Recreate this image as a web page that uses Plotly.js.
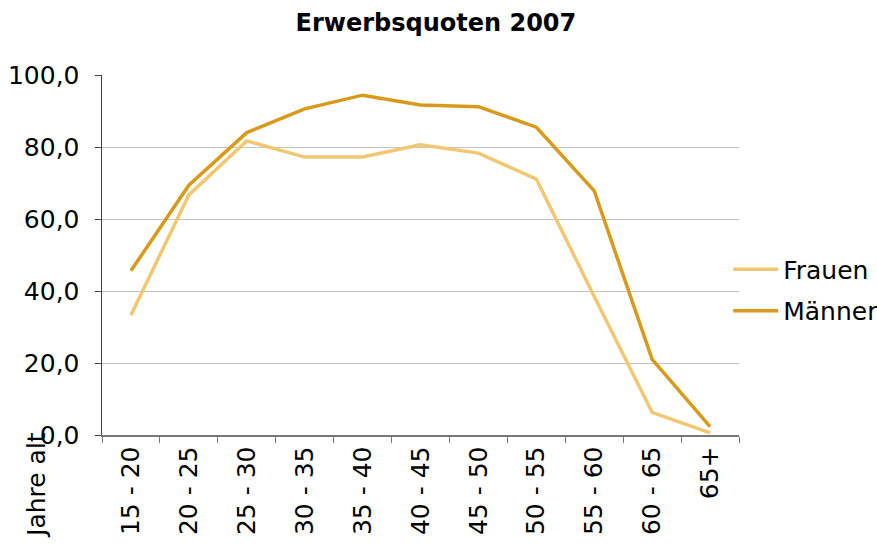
<!DOCTYPE html>
<html>
<head>
<meta charset="utf-8">
<script src="https://cdn.plot.ly/plotly-3.0.1.min.js"></script>
<style>html,body{margin:0;padding:0;background:#fff;}#chart{width:877px;height:559px;}</style>
</head>
<body>
<div id="chart"></div>
<script>
var categories = ["15 - 20","20 - 25","25 - 30","30 - 35","35 - 40","40 - 45","45 - 50","50 - 55","55 - 60","60 - 65","65+"];
var frauen = [33.3, 66.7, 81.7, 77.2, 77.2, 80.6, 78.3, 71.1, 38.5, 6.3, 0.6];
var maenner = [45.6, 69.4, 84.0, 90.6, 94.4, 91.7, 91.2, 85.5, 67.8, 21.0, 2.3];
var yTicks = [0, 20, 40, 60, 80, 100];
var yTickLabels = ["0,0","20,0","40,0","60,0","80,0","100,0"];

var font = "DejaVu Sans, Verdana, sans-serif";
var traces = [
  {x: categories, y: frauen, name: "Frauen", type: "scatter", mode: "lines", legendgroup: "f",
   line: {color: "#F0C873", width: 3.5}},
  {x: categories, y: maenner, name: "Männer", type: "scatter", mode: "lines", legendgroup: "m",
   line: {color: "#D99A1C", width: 3.5}}
];
var layout = {
  width: 877, height: 559,
  margin: {l: 102, r: 138, t: 75, b: 124, pad: 0, autoexpand: false},
  paper_bgcolor: "#fff", plot_bgcolor: "#fff",
  font: {family: font, color: "#000", size: 25},
  title: {text: "<b>Erwerbsquoten 2007</b>", x: 0.497, xanchor: "center", y: 0.96, yanchor: "middle",
          font: {family: font, size: 24, color: "#000"}},
  xaxis: {
    type: "category", tickangle: -90, tickson: "boundaries",
    ticks: "outside", ticklen: 6, tickcolor: "#777", showline: true, linecolor: "#777", linewidth: 1.5,
    showgrid: false, zeroline: false, tickfont: {family: font, size: 25, color: "#000"},
    range: [-0.5, 10.5], fixedrange: true
  },
  yaxis: {
    range: [0, 100], tickvals: yTicks, ticktext: yTickLabels,
    ticks: "outside", ticklen: 6, tickcolor: "#444", showline: true, linecolor: "#444", linewidth: 1.5,
    showgrid: true, gridcolor: "#C4C4C4", gridwidth: 1, zeroline: false, ticklabelstandoff: 10,
    tickfont: {family: font, size: 25, color: "#000"}
  },
  legend: {x: 0.983, xanchor: "left", y: 0.403, yanchor: "middle",
           font: {family: font, size: 25, color: "#000"}, bgcolor: "rgba(255,255,255,0)",
           itemwidth: 45, traceorder: "grouped", tracegroupgap: 6},
  showlegend: true,
  annotations: [
    {text: "Jahre alt", xref: "paper", yref: "paper", x: -0.103, y: 0.015, xanchor: "center", yanchor: "top",
     textangle: -90, showarrow: false, font: {family: font, size: 25, color: "#000"}}
  ]
};
Plotly.newPlot("chart", traces, layout, {displayModeBar: false, staticPlot: true});
</script>
</body>
</html>
